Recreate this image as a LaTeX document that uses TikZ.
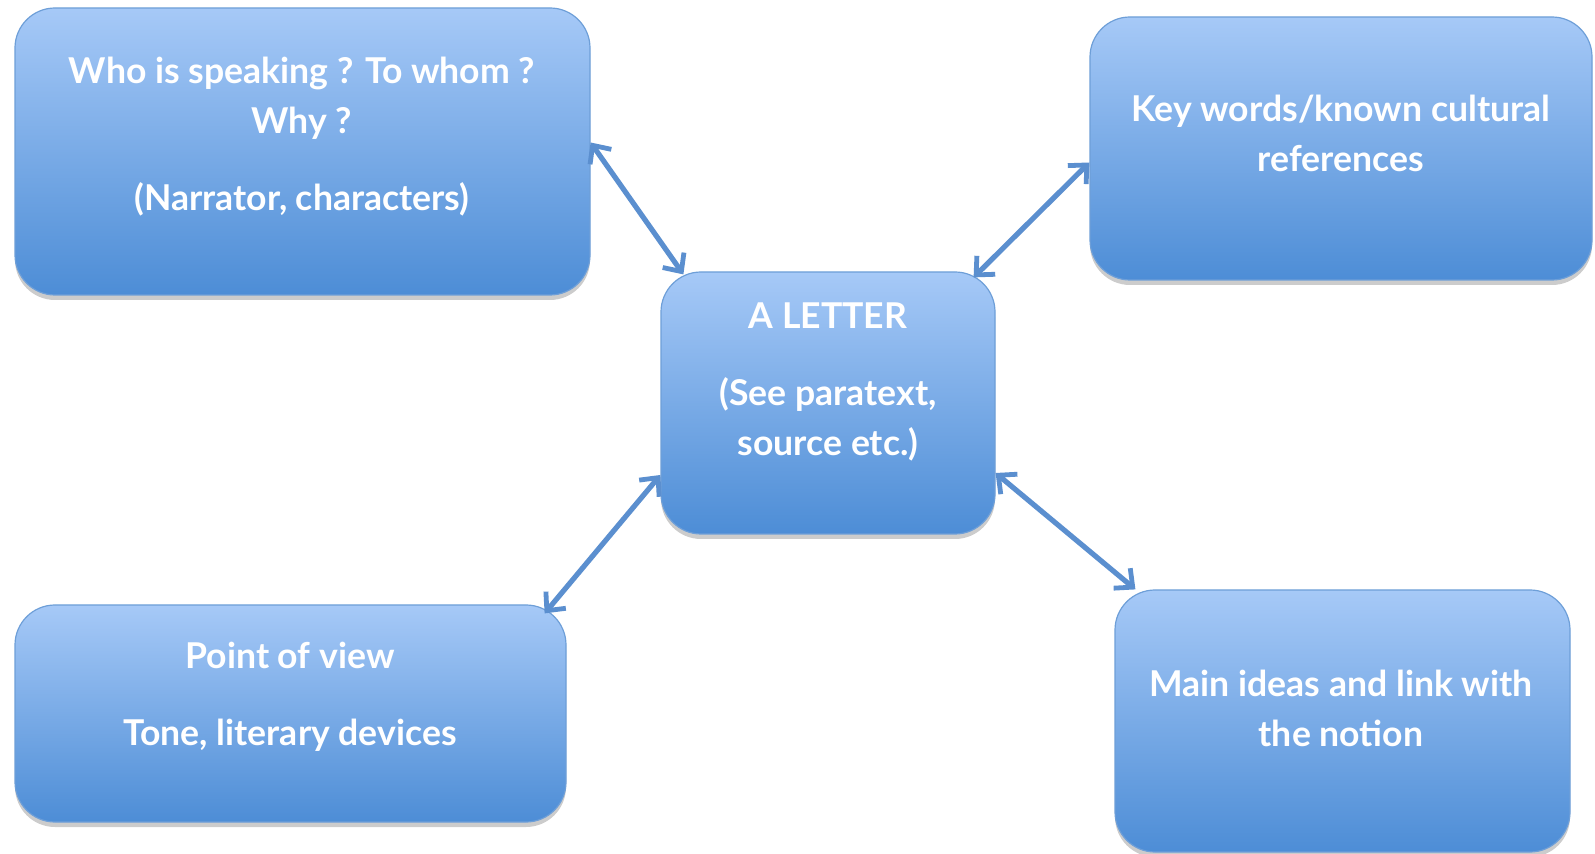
\documentclass[tikz,border=0pt]{standalone}
\usepackage{fontspec}
\setmainfont{Lato}
\usepackage{xcolor}
\usepackage{tikz}
\usetikzlibrary{positioning, arrows.meta, shadows, calc}

\definecolor{boxtop}{HTML}{A6C9F7}
\definecolor{boxbot}{HTML}{4D8DD6}
\definecolor{boxedge}{HTML}{6E9FD8}
\definecolor{linkblue}{HTML}{5B8FCF}

\begin{document}
\begin{tikzpicture}[x=0.5pt, y=-0.5pt,
        box/.style={draw=boxedge, line width=0.6pt, rounded corners=20pt, inner sep=0pt,
          top color=boxtop, bottom color=boxbot,
          drop shadow={shadow xshift=0pt, shadow yshift=-2.5pt, opacity=0.2, fill=black}},
        txt/.style={text=white, font=\bfseries\fontsize{17.8}{25}\selectfont, align=center},
        link/.style={linkblue, line width=2.6pt,
          {Straight Barb[length=7pt,width=13pt,line width=2.4pt]}-{Straight Barb[length=7pt,width=13pt,line width=2.4pt]}}]
        \path[fill=white, use as bounding box] (0,0) rectangle (1595,854);
        % boxes
        \node[box, minimum width=287.5pt, minimum height=143.5pt] (speaker) at (302.5,151.5) {};
        \node[box, minimum width=251pt, minimum height=131.5pt] (refs) at (1341,148.5) {};
        \node[box, minimum width=167pt, minimum height=131pt] (letter) at (828,403) {};
        \node[box, minimum width=275.5pt, minimum height=108.5pt] (view) at (290.5,713.5) {};
        \node[box, minimum width=227.5pt, minimum height=131pt] (ideas) at (1342.5,721) {};
        % texts
        \node[txt] (speakertxt) at (302,137) {Who is speaking ? To whom ?\\ Why ?\\[13.5pt] (Narrator, characters)};
        \node[txt] (refstxt) at (1341,133.5) {Key words/known cultural\\ references};
        \node[txt] (lettertxt) at (828,382) {A LETTER\\[13.5pt] (See paratext,\\ source etc.)};
        \node[txt] (viewtxt) at (290,697) {Point of view\\[13.5pt] Tone, literary devices};
        \node[txt] (ideastxt) at (1341,708) {Main ideas and link with\\ the notion};
        % links
        \draw[link] ($(speaker.east)+(0,-9)$) -- ($(letter.north west)+(23,3)$);
        \draw[link] ($(refs.west)+(0,14)$) -- ($(letter.north east)+(-22,6)$);
        \draw[link] ($(letter.west)+(0,72)$) -- ($(view.north east)+(-22,9)$);
        \draw[link] ($(letter.east)+(0,70)$) -- ($(ideas.north west)+(21,0)$);
    \end{tikzpicture}
\end{document}
